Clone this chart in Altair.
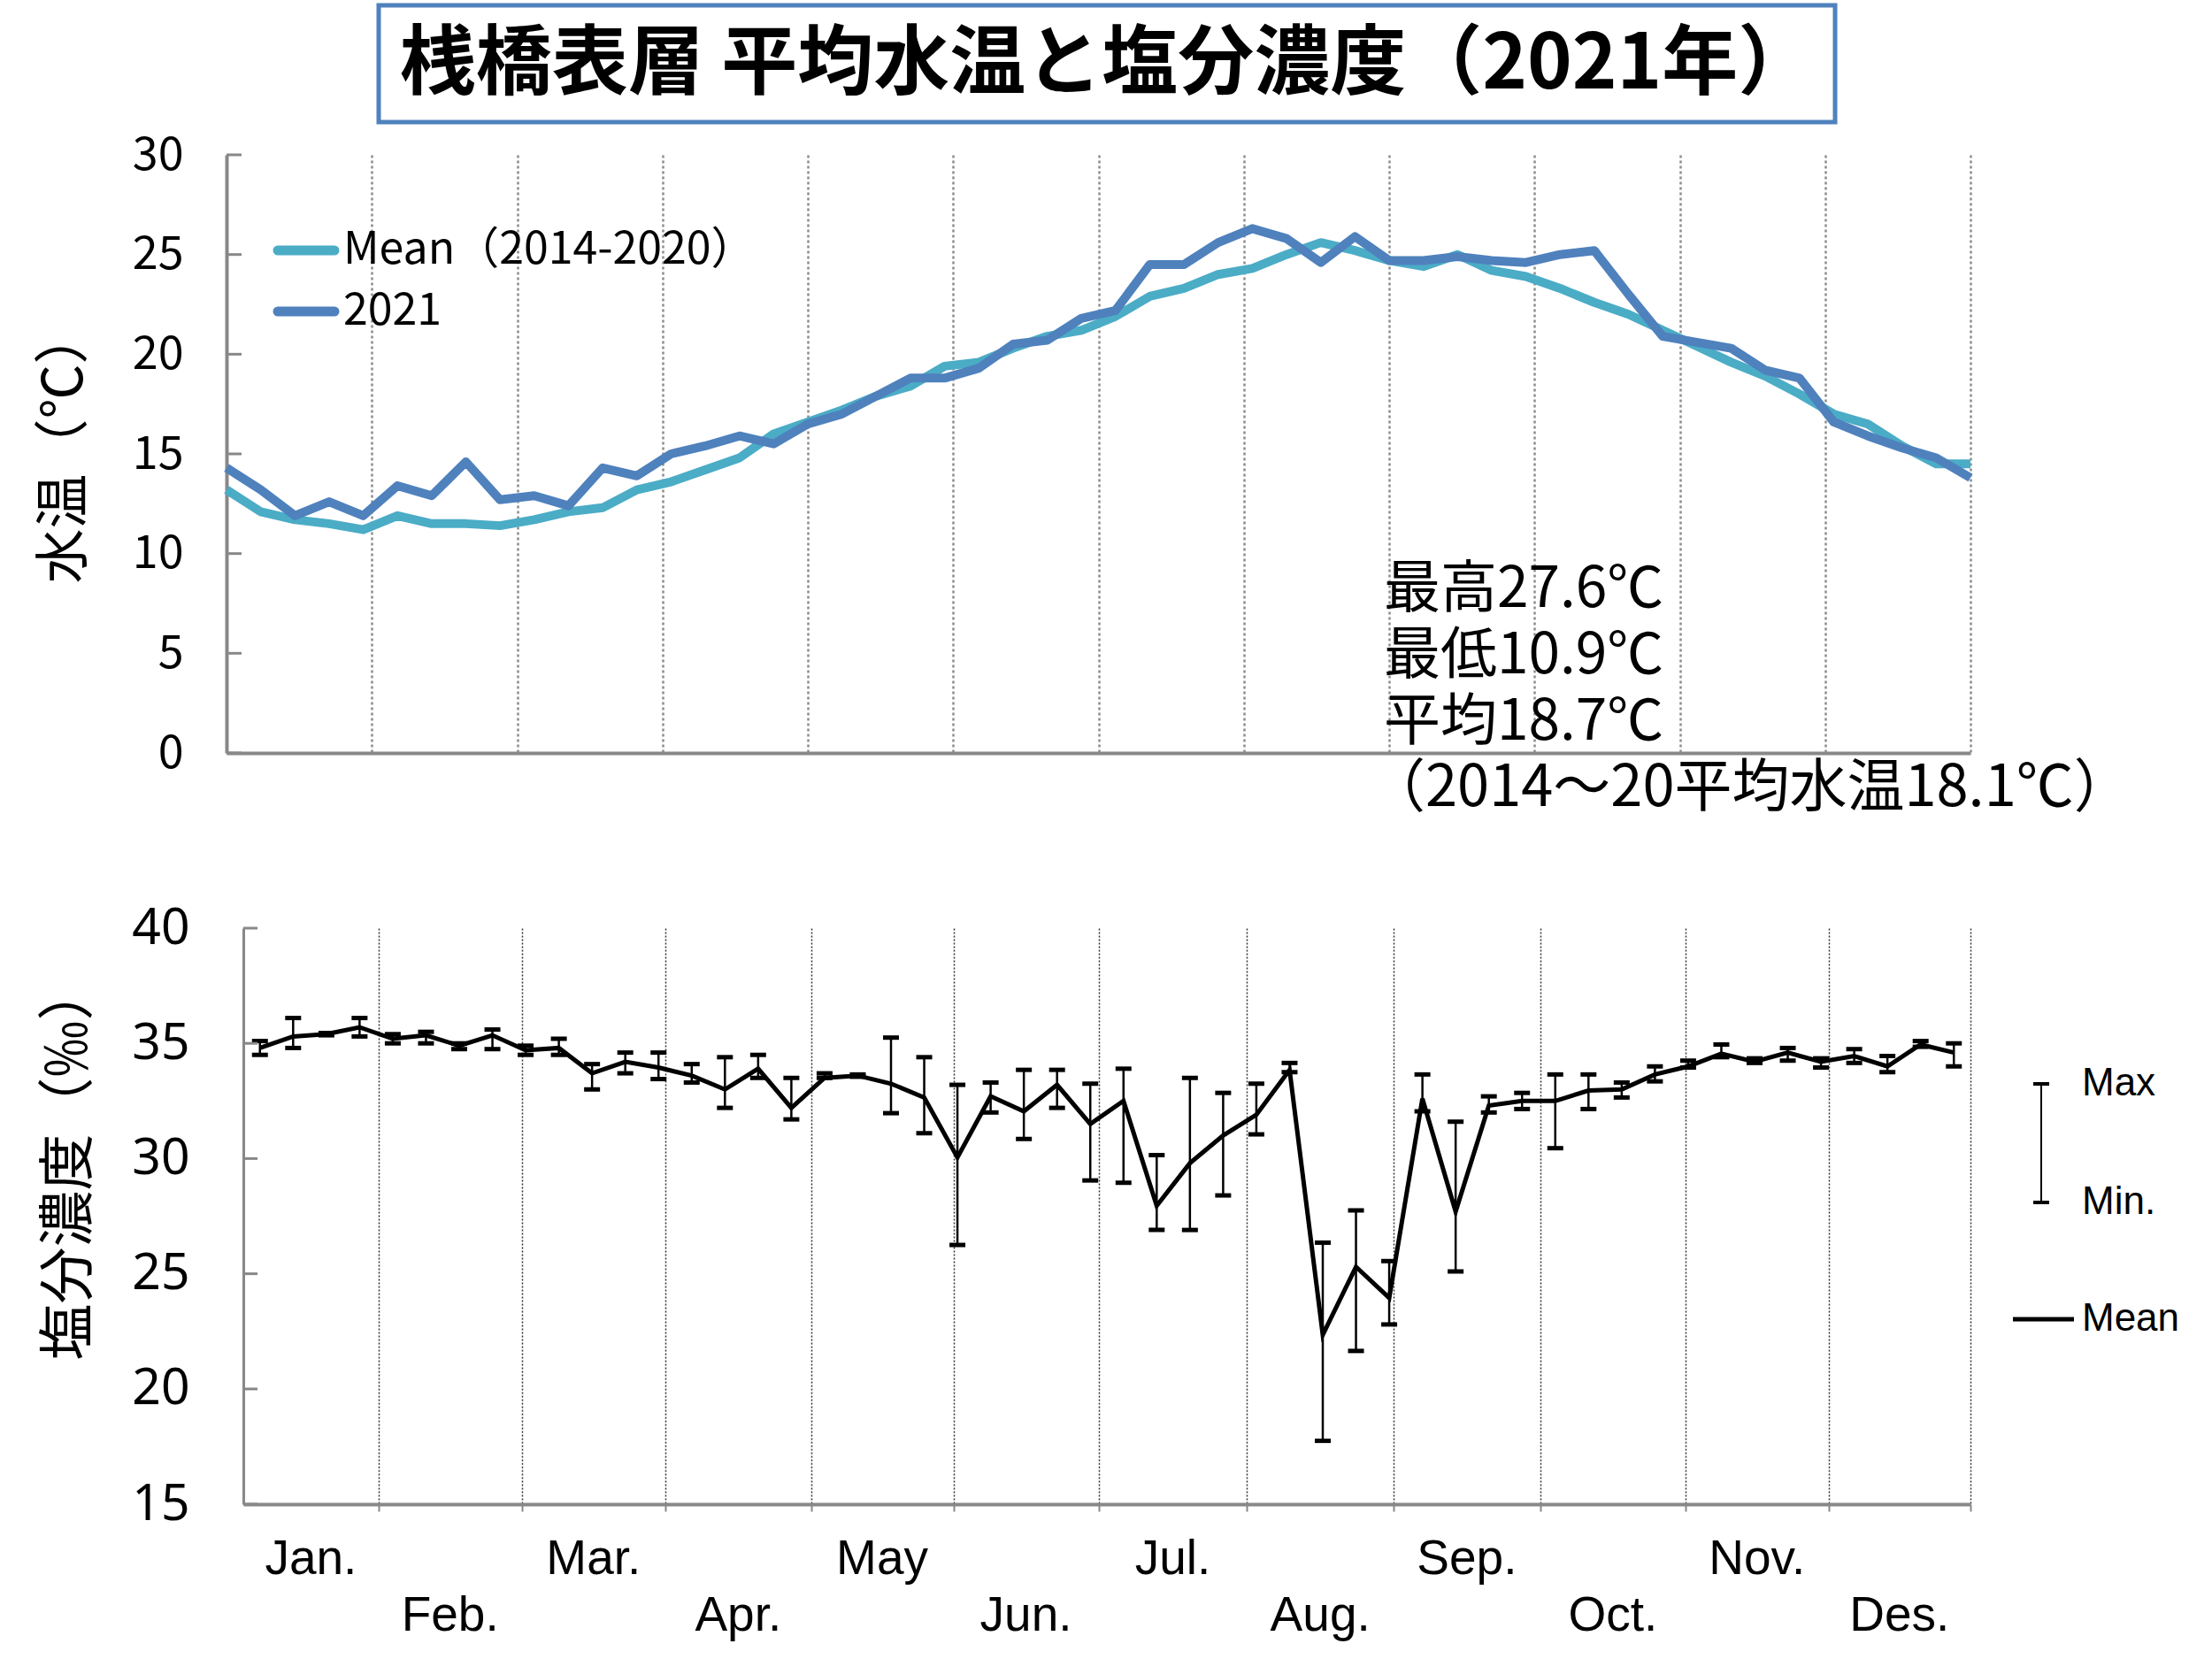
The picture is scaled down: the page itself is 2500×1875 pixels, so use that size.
import altair as alt
import pandas as pd

# ---------------- data ----------------
weeks = list(range(52))
temp_mean = [13.2, 12.1, 11.7, 11.5, 11.2, 11.9, 11.5, 11.5, 11.4, 11.7,
             12.1, 12.3, 13.2, 13.6, 14.2, 14.8, 16.0, 16.6, 17.2, 17.9,
             18.4, 19.4, 19.6, 20.3, 20.9, 21.2, 21.9, 22.9, 23.3, 24.0,
             24.3, 25.0, 25.6, 25.2, 24.7, 24.4, 25.0, 24.2, 23.9, 23.3,
             22.6, 22.0, 21.2, 20.4, 19.6, 18.9, 18.0, 17.0, 16.5, 15.4,
             14.5, 14.5]
temp_2021 = [14.3, 13.2, 11.9, 12.6, 11.9, 13.4, 12.9, 14.6, 12.7, 12.9,
             12.4, 14.3, 13.9, 15.0, 15.4, 15.9, 15.5, 16.5, 17.0, 17.9,
             18.8, 18.8, 19.3, 20.5, 20.7, 21.8, 22.2, 24.5, 24.5, 25.6,
             26.3, 25.8, 24.6, 25.9, 24.7, 24.7, 24.9, 24.7, 24.6, 25.0,
             25.2, 23.0, 20.9, 20.6, 20.3, 19.2, 18.8, 16.6, 15.9, 15.3,
             14.8, 13.8]
sal_mean = [34.8, 35.3, 35.4, 35.7, 35.2, 35.35, 34.9, 35.35, 34.7, 34.8,
            33.7, 34.2, 33.95, 33.6, 33.0, 33.9, 32.2, 33.5, 33.6, 33.25,
            32.65, 30.05, 32.7, 32.05, 33.2, 31.5, 32.5, 27.95, 29.8, 31.0,
            31.9, 33.85, 22.35, 25.3, 23.95, 32.6, 27.7, 32.3, 32.5, 32.5,
            32.95, 33.0, 33.65, 34.0, 34.55, 34.2, 34.6, 34.2, 34.45, 34.0,
            34.95, 34.6]
sal_max = [35.1, 36.1, 35.45, 36.1, 35.4, 35.5, 35.0, 35.6, 34.9, 35.2,
           34.1, 34.6, 34.6, 34.1, 34.4, 34.5, 33.5, 33.7, 33.65, 35.25,
           34.4, 33.2, 33.3, 33.85, 33.85, 33.25, 33.9, 30.15, 33.5, 32.85,
           33.25, 34.15, 26.35, 27.75, 25.55, 33.65, 31.6, 32.7, 32.85, 33.65,
           33.65, 33.3, 34.0, 34.25, 34.95, 34.35, 34.8, 34.35, 34.75, 34.45,
           35.1, 35.0]
sal_min = [34.5, 34.8, 35.35, 35.3, 35.0, 35.0, 34.75, 34.75, 34.5, 34.5,
           33.0, 33.7, 33.45, 33.3, 32.2, 33.5, 31.7, 33.5, 33.55, 31.97,
           31.1, 26.25, 32.0, 30.85, 32.2, 29.05, 28.95, 26.9, 26.9, 28.4,
           31.05, 33.75, 17.75, 21.65, 22.8, 32.05, 25.1, 32.0, 32.15, 30.45,
           32.15, 32.65, 33.35, 33.95, 34.4, 34.15, 34.25, 33.95, 34.15, 33.75,
           34.85, 34.0]
months = ["Jan.", "Feb.", "Mar.", "Apr.", "May", "Jun.",
          "Jul.", "Aug.", "Sep.", "Oct.", "Nov.", "Des."]
# month boundaries on the salinity axis (in weeks)
sal_month_edges = [0, 4.07, 8.38, 12.71, 17.09, 21.38, 25.75, 30.22,
                   34.63, 39.05, 43.42, 47.73, 52]
temp_ticks = [0, 5, 10, 15, 20, 25, 30]
sal_ticks = [15, 20, 25, 30, 35, 40]
series_names = ["Mean（2014-2020）", "2021"]
title_text = "桟橋表層 平均水温と塩分濃度（2021年）"
notes = ["最高27.6℃", "最低10.9℃", "平均18.7℃"]
note_ref = "（2014～20平均水温18.1℃）"

# ---------------- layout constants ----------------
W1, H1 = 1971, 676
W2, H2 = 1952, 651
JP = "Noto Sans CJK JP"
LAT = "Liberation Sans"
C_MEAN = "#4BACC6"
C_2021 = "#4F81BD"
GRAY = "#888888"


def one(text):
    return pd.DataFrame({"t": [text]})


# ---------------- top chart ----------------
df_t = pd.DataFrame({"week": weeks * 2,
                     "temp": temp_mean + temp_2021,
                     "series": [series_names[0]] * 52 + [series_names[1]] * 52})

xt_scale = alt.Scale(domain=[0, 51], nice=False, zero=False)
xt_axis = alt.Axis(values=[51 * k / 12 for k in range(1, 13)], labels=False,
                   ticks=False, title=None, grid=True, gridDash=[3, 3],
                   gridColor="#8c8c8c", gridWidth=2.5, domainColor=GRAY,
                   domainWidth=4)
yt_scale = alt.Scale(domain=[0, 30], nice=False, zero=False)
yt_axis = alt.Axis(values=temp_ticks, title="水温（℃）", titleFont=JP,
                   titleFontSize=62, titleFontWeight="normal", titleColor="black",
                   titleAngle=270, titleX=-183, titleY=329, titleAlign="center",
                   titleBaseline="middle", labelFont=JP, labelFontSize=52,
                   labelColor="black", labelPadding=49, ticks=False, tickSize=0,
                   domainColor=GRAY, domainWidth=4, grid=False)
XT = alt.X("week:Q", scale=xt_scale, axis=xt_axis)
YT = alt.Y("temp:Q", scale=yt_scale, axis=yt_axis)
color = alt.Color("series:N", scale=alt.Scale(domain=series_names,
                                               range=[C_MEAN, C_2021]),
                  legend=None)

line_mean = alt.Chart(df_t[df_t.series == series_names[0]]).mark_line(
    strokeWidth=10, strokeJoin="round").encode(x=XT, y=YT, color=color)
line_2021 = alt.Chart(df_t[df_t.series == series_names[1]]).mark_line(
    strokeWidth=10, strokeJoin="round").encode(x=XT, y=YT, color=color)

ticks_top = alt.Chart(pd.DataFrame({"temp": temp_ticks})).mark_rule(
    color=GRAY, strokeWidth=3).encode(y=YT, x=alt.value(0), x2=alt.value(17))

# legend (top)
leg_top = []
for i, (name, col) in enumerate(zip(series_names, [C_MEAN, C_2021])):
    yy = 108 + 69 * i
    leg_top.append(alt.Chart(one(name)).mark_rule(
        color=col, strokeWidth=11, strokeCap="round").encode(
        x=alt.value(58), x2=alt.value(122), y=alt.value(yy)))
    leg_top.append(alt.Chart(one(name)).mark_text(
        font=JP, fontSize=50, align="left", baseline="middle", color="black").encode(
        x=alt.value(132), y=alt.value(yy), text="t:N"))

# annotations
ann = []
for i, s in enumerate(notes):
    ann.append(alt.Chart(one(s)).mark_text(
        font=JP, fontSize=64, align="left", baseline="middle", color="black").encode(
        x=alt.value(1308), y=alt.value(492 + 75 * i), text="t:N"))
ann.append(alt.Chart(one(note_ref)).mark_text(
    font=JP, fontSize=65, align="left", baseline="middle", color="black").encode(
    x=alt.value(1290), y=alt.value(716), text="t:N"))

# title box
title_box = alt.Chart(one(title_text)).mark_rect(
    fill="white", stroke=C_2021, strokeWidth=5).encode(
    x=alt.value(172), x2=alt.value(1818), y=alt.value(-169), y2=alt.value(-37))
title_txt = alt.Chart(one(title_text)).mark_text(
    font=JP, fontSize=86, fontWeight="bold", align="center", baseline="middle",
    color="black").encode(x=alt.value(995), y=alt.value(-101), text="t:N")

top = alt.layer(line_mean, line_2021, ticks_top, *leg_top, *ann,
                title_box, title_txt).properties(width=W1, height=H1)

# ---------------- bottom chart ----------------
df_s = pd.DataFrame({"pos": [w + 0.5 for w in weeks], "sal": sal_mean,
                     "smax": sal_max, "smin": sal_min})
xb_scale = alt.Scale(domain=[0, 52], nice=False, zero=False)
xb_axis = alt.Axis(values=sal_month_edges[1:], labels=False,
                   title=None, grid=True, gridDash=[2, 2], gridColor="#333333",
                   gridWidth=1.5, ticks=True, tickSize=8, tickColor=GRAY,
                   tickWidth=2, domainColor=GRAY, domainWidth=4)
yb_scale = alt.Scale(domain=[15, 40], nice=False, zero=False)
yb_axis = alt.Axis(values=sal_ticks, title="塩分濃度（‰）", titleFont=JP,
                   titleFontSize=64, titleFontWeight="normal", titleColor="black",
                   titleAngle=270, titleX=-197, titleY=264, titleAlign="center",
                   titleBaseline="middle", labelFont="Noto Sans", labelFontSize=57,
                   labelColor="black", labelPadding=61, ticks=False, tickSize=0,
                   domainColor=GRAY, domainWidth=3, grid=False)


def XB(field):
    return alt.X(field, scale=xb_scale, axis=xb_axis)


def YB(field):
    return alt.Y(field, scale=yb_scale, axis=yb_axis)


err = alt.Chart(df_s).mark_rule(color="black", strokeWidth=2.5).encode(
    x=XB("pos:Q"), y=YB("smin:Q"), y2="smax:Q")
cap_hi = alt.Chart(df_s).mark_tick(orient="horizontal", size=18, thickness=5,
                                   color="black", opacity=1).encode(
    x=XB("pos:Q"), y=YB("smax:Q"))
cap_lo = alt.Chart(df_s).mark_tick(orient="horizontal", size=18, thickness=5,
                                   color="black", opacity=1).encode(
    x=XB("pos:Q"), y=YB("smin:Q"))
line_s = alt.Chart(df_s).mark_line(color="black", strokeWidth=5).encode(
    x=XB("pos:Q"), y=YB("sal:Q"))
ticks_bot = alt.Chart(pd.DataFrame({"sal": sal_ticks})).mark_rule(
    color=GRAY, strokeWidth=3).encode(y=YB("sal:Q"), x=alt.value(0), x2=alt.value(16))

df_m = pd.DataFrame({"month": months,
                     "mpos": [(sal_month_edges[k] + sal_month_edges[k + 1]) / 2
                              for k in range(12)],
                     "row": [k % 2 for k in range(12)]})
mlab = []
for r, yy in [(0, 713), (1, 777)]:
    mlab.append(alt.Chart(df_m[df_m.row == r]).mark_text(
        font=LAT, fontSize=55, baseline="middle", align="center",
        color="black").encode(
        x=XB("mpos:Q"), y=alt.value(yy), text="month:N"))

# legend (bottom)
leg_b = [
    alt.Chart(one("bar")).mark_rule(color="black", strokeWidth=2).encode(
        x=alt.value(2032), y=alt.value(176), y2=alt.value(310)),
    alt.Chart(one("hi")).mark_rule(color="black", strokeWidth=4).encode(
        x=alt.value(2023), x2=alt.value(2041), y=alt.value(176)),
    alt.Chart(one("lo")).mark_rule(color="black", strokeWidth=4).encode(
        x=alt.value(2023), x2=alt.value(2041), y=alt.value(310)),
    alt.Chart(one("mean")).mark_rule(color="black", strokeWidth=5).encode(
        x=alt.value(2000), x2=alt.value(2069), y=alt.value(442)),
]
for s, yy in [("Max", 176), ("Min.", 310), ("Mean", 442)]:
    leg_b.append(alt.Chart(one(s)).mark_text(
        font=LAT, fontSize=44, align="left", baseline="middle", color="black").encode(
        x=alt.value(2078), y=alt.value(yy), text="t:N"))

bottom = alt.layer(err, line_s, cap_hi, cap_lo, ticks_bot, *mlab, *leg_b).properties(
    width=W2, height=H2)

spacer = alt.Chart(one("s")).mark_point(opacity=0).properties(width=1, height=H2)
bottom_row = alt.hconcat(spacer, bottom, spacing=18, bounds="flush")

chart = alt.vconcat(top, bottom_row, spacing=198, bounds="flush").configure(
    background="white",
    padding={"left": 41, "top": 3, "right": 5, "bottom": 5},
).configure_view(stroke="transparent")

chart.save("out.html", embed_options={"renderer": "svg", "actions": False})
